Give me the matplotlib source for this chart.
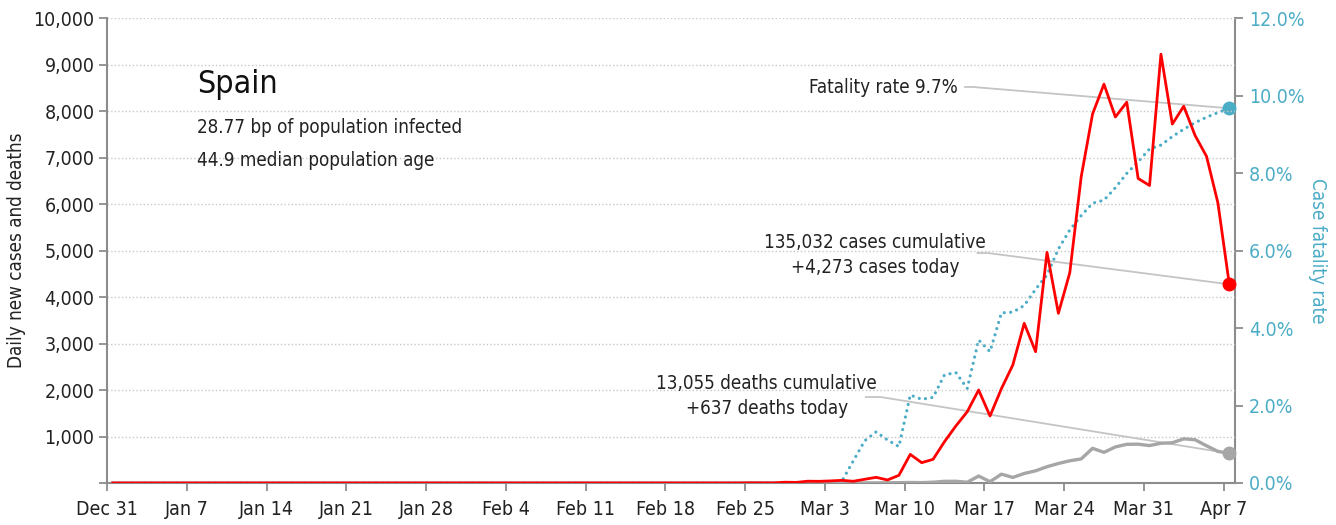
import numpy as np
import pandas as pd
import matplotlib
matplotlib.use("Agg")
import matplotlib.pyplot as plt
from matplotlib.ticker import FuncFormatter, MultipleLocator

plt.rcParams['font.family'] = ['DejaVu Sans']
plt.rcParams['font.stretch'] = 'condensed'

# --- data (Dec 31 .. Apr 7, one value per day) ---
dates = pd.date_range("2019-12-31", "2020-04-07", freq="D")

daily_cases = [
    0, 0, 0, 0, 0, 0, 0, 0, 0, 0, 0, 0, 0, 0, 0, 0, 0, 0, 0, 0,
    0, 0, 0, 0, 0, 0, 0, 0, 0, 0, 0, 0, 1, 0, 0, 0, 0, 0, 0, 0,
    0, 1, 0, 0, 0, 0, 0, 0, 0, 0, 0, 0, 0, 0, 0, 0, 4, 3, 2, 17,
    13, 39, 36, 45, 57, 37, 80, 122, 65, 165, 616, 437, 509, 888, 1226, 1533, 2000, 1441, 2029, 2538,
    3434, 2824, 4961, 3649, 4523, 6584, 7937, 8578, 7871, 8189, 6549, 6398, 9222, 7719, 8102, 7472, 7026, 6023, 4273,
]

daily_deaths = [
    0, 0, 0, 0, 0, 0, 0, 0, 0, 0, 0, 0, 0, 0, 0, 0, 0, 0, 0, 0,
    0, 0, 0, 0, 0, 0, 0, 0, 0, 0, 0, 0, 0, 0, 0, 0, 0, 0, 0, 0,
    0, 0, 0, 0, 0, 0, 0, 0, 0, 0, 0, 0, 0, 0, 0, 0, 0, 0, 0, 0,
    0, 0, 0, 0, 1, 2, 2, 3, 5, 7, 11, 8, 17, 36, 37, 16, 150, 28, 190, 120,
    205, 262, 350, 420, 478, 518, 746, 659, 775, 832, 835, 805, 855, 865, 950, 930, 800, 680, 637,
]

# case fatality rate in percent
cfr_pct = [
    0, 0, 0, 0, 0, 0, 0, 0, 0, 0, 0, 0, 0, 0, 0, 0, 0, 0, 0, 0,
    0, 0, 0, 0, 0, 0, 0, 0, 0, 0, 0, 0, 0, 0, 0, 0, 0, 0, 0, 0,
    0, 0, 0, 0, 0, 0, 0, 0, 0, 0, 0, 0, 0, 0, 0, 0, 0, 0, 0, 0,
    0, 0, 0, 0, 0.05, 0.57, 1.09, 1.32, 1.11, 0.94, 2.27, 2.16, 2.21, 2.79, 2.85, 2.44, 3.69, 3.39, 4.39, 4.41,
    4.58, 5.0, 5.37, 6.04, 6.53, 6.9, 7.22, 7.3, 7.62, 7.99, 8.29, 8.62, 8.72, 8.94, 9.13, 9.3, 9.44, 9.56, 9.67,
]

country = "Spain"
infected_bp = 28.77
median_age = 44.9
cum_cases = 135032
cum_deaths = 13055

RED = "#ff0000"
GRAY = "#a6a6a6"
TEAL = "#4bacc6"
AXIS = "#8c8c8c"
LEADER = "#c4c4c4"
INK = "#222222"
FS = 13.5

# day positions (points sit mid-day)
days = np.arange(len(dates)) + 0.5

fig = plt.figure(figsize=(13.36, 5.25), dpi=100)
ax = fig.add_axes([0.0801, 0.08, 0.8443, 0.8857])
ax2 = ax.twinx()

ax.set_xlim(0, 99)
ax.set_ylim(0, 10000)
ax2.set_ylim(0, 12)

# gridlines
for v in range(1000, 10001, 1000):
    ax.axhline(v, color="#c8c8c8", lw=1, ls=(0, (1, 1.6)), zorder=0)

# lines
ax.plot(days, daily_deaths, color=GRAY, lw=2.4, zorder=3, solid_joinstyle="round")
ax.plot(days, daily_cases, color=RED, lw=2, zorder=4, solid_joinstyle="round")
ax2.plot(days, cfr_pct, color=TEAL, lw=2.3, ls=(0, (0.01, 2.0)),
         dash_capstyle="round", zorder=3)

# end markers
ax.plot(days[-1], daily_deaths[-1], "o", color=GRAY, ms=9, zorder=6, clip_on=False)
ax.plot(days[-1], daily_cases[-1], "o", color=RED, ms=9, zorder=6, clip_on=False)
ax2.plot(days[-1], cfr_pct[-1], "o", color=TEAL, ms=9, zorder=6, clip_on=False)

# leader lines
ax2.plot([75.3, 76.0, days[-1]], [10.22, 10.22, cfr_pct[-1]], color=LEADER, lw=1.3, zorder=2)
ax.plot([76.4, 77.3, days[-1]], [4946, 4946, daily_cases[-1]], color=LEADER, lw=1.3, zorder=2)
ax.plot([66.6, 67.9, days[-1]], [1849, 1849, daily_deaths[-1]], color=LEADER, lw=1.3, zorder=2)

# annotations
ax.text(0.0798, 0.856, country, transform=ax.transAxes, fontsize=23,
        ha="left", va="center", color="#111111")
ax.text(0.0798, 0.7656, f"{infected_bp:.2f} bp of population infected",
        transform=ax.transAxes, fontsize=FS, ha="left", va="center", color=INK)
ax.text(0.0798, 0.6925, f"{median_age} median population age",
        transform=ax.transAxes, fontsize=FS, ha="left", va="center", color=INK)

ax.text(74.7, 8495, f"Fatality rate {cfr_pct[-1]:.1f}%", fontsize=FS,
        ha="right", va="center", color=INK)
ax.text(67.4, 4904, f"{cum_cases:,} cases cumulative\n+{daily_cases[-1]:,} cases today",
        fontsize=FS, ha="center", va="center", linespacing=1.45, color=INK)
ax.text(57.9, 1870, f"{cum_deaths:,} deaths cumulative\n+{daily_deaths[-1]:,} deaths today",
        fontsize=FS, ha="center", va="center", linespacing=1.45, color=INK)

# x axis
tick_days = np.arange(0, 99, 7)
ax.set_xticks(tick_days)
ax.set_xticklabels([d.strftime("%b ") + str(d.day) for d in dates[tick_days]])

# y axes
ax.yaxis.set_major_locator(MultipleLocator(1000))
ax.yaxis.set_major_formatter(FuncFormatter(lambda v, p: "" if v == 0 else f"{int(v):,}"))
ax2.yaxis.set_major_locator(MultipleLocator(2))
ax2.yaxis.set_major_formatter(FuncFormatter(lambda v, p: f"{v:.1f}%"))

for a in (ax, ax2):
    for s in a.spines.values():
        s.set_visible(False)
ax.spines["left"].set_visible(True)
ax.spines["bottom"].set_visible(True)
ax2.spines["right"].set_visible(True)
for s in (ax.spines["left"], ax.spines["bottom"], ax2.spines["right"]):
    s.set_color(AXIS)
    s.set_linewidth(1.5)

ax.tick_params(axis="x", direction="out", length=6, width=1.3, color=AXIS,
               labelsize=14, labelcolor=INK, pad=6)
ax.tick_params(axis="y", direction="out", length=6, width=1.3, color=AXIS,
               labelsize=14, labelcolor=INK, pad=3)
ax2.tick_params(axis="y", direction="out", length=6, width=1.3, color=AXIS,
                labelsize=14, labelcolor=TEAL, pad=4)

ax.set_ylabel("Daily new cases and deaths", fontsize=13.5, color=INK, labelpad=5)
ax2.set_ylabel("Case fatality rate", fontsize=13.5, color=TEAL, rotation=270, labelpad=16)

ax.set_zorder(ax2.get_zorder() + 1)
ax.patch.set_visible(False)

fig.savefig("out.png", dpi=100)
